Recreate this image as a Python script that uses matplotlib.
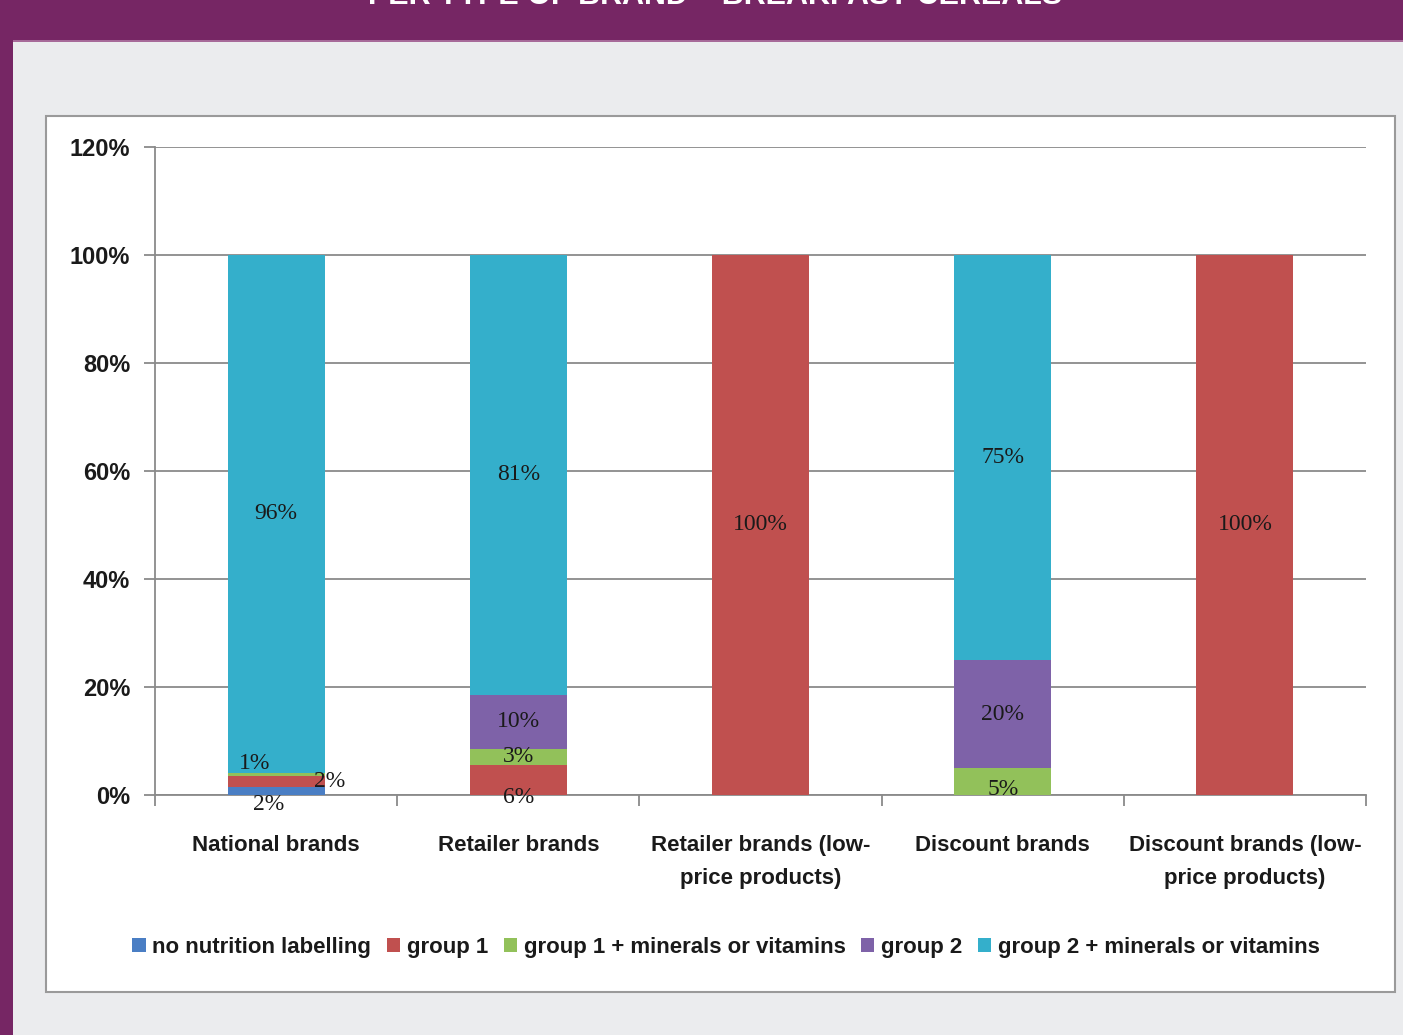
import numpy as np
import matplotlib
matplotlib.use("Agg")
import matplotlib.pyplot as plt
from matplotlib.patches import Rectangle

# data
categories = ["National brands", "Retailer brands", "Retailer brands (low-\nprice products)",
              "Discount brands", "Discount brands (low-\nprice products)"]
series_names = ["no nutrition labelling", "group 1", "group 1 + minerals or vitamins",
                "group 2", "group 2 + minerals or vitamins"]
no_label = [1.5, 0, 0, 0, 0]
group1 = [2.0, 5.6, 100, 0, 100]
group1_min = [0.6, 3.0, 0, 5.0, 0]
group2 = [0, 10.0, 0, 20.0, 0]
group2_min = [95.9, 81.4, 0, 75.0, 0]
y_ticks = [0, 20, 40, 60, 80, 100, 120]

colors = ["#4A7EC4", "#C0504F", "#92C15A", "#7E62A8", "#34AFCB"]

# label nudges (series, category): (dx in category units, dy in %)
nudges = {
    (0, 0): (-0.03, -2.6),
    (1, 0): (0.22, 0.0),
    (2, 0): (-0.09, 2.0),
    (1, 1): (0.0, -3.2),
    (2, 3): (0.0, -1.4),
}

serif = ["Liberation Serif", "DejaVu Serif"]
sans = ["Liberation Sans Narrow", "Liberation Sans", "DejaVu Sans"]

W, H = 1403, 1035
fig = plt.figure(figsize=(W / 100, H / 100), dpi=100)
fig.patch.set_facecolor("#EBECEE")

# purple frame bits
fig.add_artist(Rectangle((0, 1 - 40 / H), 1, 40 / H, transform=fig.transFigure,
                         facecolor="#762664", edgecolor="none", zorder=0))
fig.add_artist(Rectangle((0, 0), 13 / W, 1, transform=fig.transFigure,
                         facecolor="#762664", edgecolor="none", zorder=0))
fig.add_artist(Rectangle((13 / W, 1 - 42 / H), 1, 2 / H, transform=fig.transFigure,
                         facecolor="#A76A99", edgecolor="none", zorder=0))
# title sits mostly above the picture, as in the source
fig.text(715 / W, 1 - 4 / H, "PER TYPE OF BRAND \u2013 BREAKFAST CEREALS", color="white",
         fontsize=22, fontweight="bold", ha="center", va="baseline", family=sans)

# white chart box
fig.add_artist(Rectangle((46 / W, 1 - 992 / H), (1395 - 46) / W, (992 - 116) / H,
                         transform=fig.transFigure, facecolor="white",
                         edgecolor="#9A9A9A", linewidth=1.5, zorder=0))

ax = fig.add_axes([155 / W, 1 - 795 / H, (1366 - 155) / W, (795 - 147) / H])
ax.set_facecolor("none")

data = [no_label, group1, group1_min, group2, group2_min]
x = np.arange(len(categories))
bottom = np.zeros(len(categories))
for s, (vals, name, c) in enumerate(zip(data, series_names, colors)):
    vals = np.array(vals, dtype=float)
    ax.bar(x, vals, 0.4, bottom=bottom, color=c, label=name, zorder=3)
    for i, v in enumerate(vals):
        if v > 0:
            dx, dy = nudges.get((s, i), (0, 0))
            ax.text(x[i] + dx, bottom[i] + v / 2 + dy, "%d%%" % round(v),
                    ha="center", va="center", fontsize=17, color="#1A1A1A",
                    family=serif, zorder=5)
    bottom += vals

ax.set_xlim(-0.5, len(categories) - 0.5)
ax.set_ylim(0, 120)
ax.set_yticks(y_ticks)
ax.set_yticklabels(["%d%%" % t for t in y_ticks])
ax.yaxis.grid(True, color="#8A8A8A", linewidth=1.3, zorder=1)
ax.set_axisbelow(True)

for sp in ["top", "right"]:
    ax.spines[sp].set_visible(False)
for sp in ["left", "bottom"]:
    ax.spines[sp].set_color("#8A8A8A")
    ax.spines[sp].set_linewidth(1.3)

ax.set_xticks(np.arange(-0.5, len(categories), 1.0))
ax.set_xticklabels([])
ax.set_xticks(x, minor=True)
ax.set_xticklabels(categories, minor=True)
ax.tick_params(axis="x", which="major", length=8, color="#8A8A8A", width=1.3)
ax.tick_params(axis="x", which="minor", length=0, pad=29)
ax.tick_params(axis="y", length=8, color="#8A8A8A", width=1.3, pad=10)
for lab in ax.get_yticklabels():
    lab.set_family(sans)
    lab.set_fontsize(17)
    lab.set_fontweight("bold")
    lab.set_color("#1A1A1A")
for lab in ax.get_xticklabels(minor=True):
    lab.set_family(sans)
    lab.set_fontsize(16)
    lab.set_fontweight("bold")
    lab.set_color("#1A1A1A")
    lab.set_linespacing(1.75)

leg = fig.legend(loc="center", bbox_to_anchor=(726 / W, 1 - 947 / H), ncol=5,
                 frameon=False, handlelength=0.6, handleheight=0.6,
                 handletextpad=0.3, columnspacing=0.7,
                 prop={"family": sans, "size": 16, "weight": "bold"})
for t in leg.get_texts():
    t.set_color("#1A1A1A")

fig.savefig("out.png", dpi=100, facecolor=fig.get_facecolor())
